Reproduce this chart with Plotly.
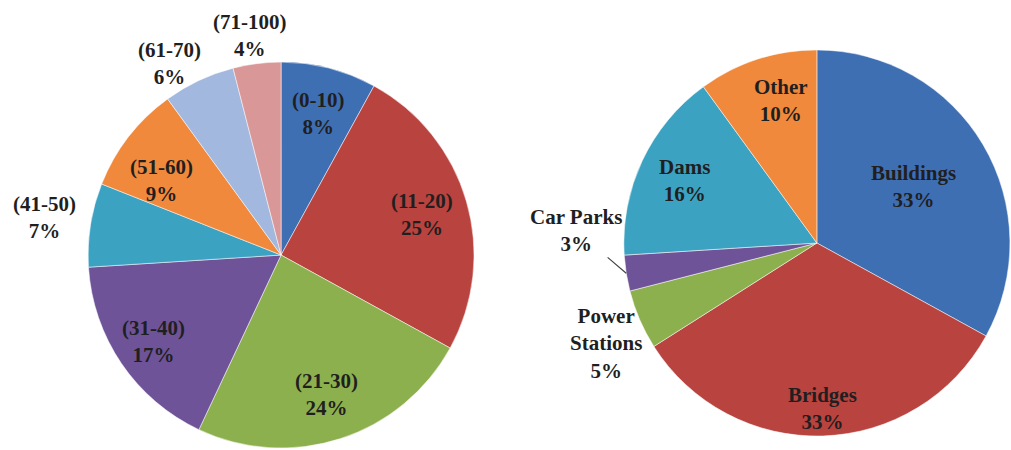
import math
import plotly.graph_objects as go

# Left pie: age groups
age_labels = ["(0-10)", "(11-20)", "(21-30)", "(31-40)", "(41-50)", "(51-60)", "(61-70)", "(71-100)"]
age_values = [8, 25, 24, 17, 7, 9, 6, 4]
age_colors = ["#3F6FB3", "#B9433F", "#8DB04E", "#6F5399", "#3CA2C2", "#F0893C", "#A2B8DE", "#D99798"]

# Right pie: structure types
struct_labels = ["Buildings", "Bridges", "Power Stations", "Car Parks", "Dams", "Other"]
struct_values = [33, 33, 5, 3, 16, 10]
struct_colors = ["#3F6FB3", "#B9433F", "#8DB04E", "#6F5399", "#3CA2C2", "#F0893C"]

W, H = 1011, 450
font_family = "Liberation Serif, Times New Roman, serif"
FS = 21
TXT = "#1f1f1f"

left_dom = dict(x=[0.087, 0.469], y=[0.0044, 0.862])
right_dom = dict(x=[0.617, 0.999], y=[0.031, 0.889])

# label placement (radius factor, angle nudge in degrees) relative to each slice's mid-angle
DEFAULT_PLACE = (0.76, 0)
left_place = {"(31-40)": (0.8, 0), "(51-60)": (0.73, -6), "(41-50)": (1.24, 0),
              "(61-70)": (1.15, -5), "(71-100)": (1.15, -1)}
right_place = {"Buildings": (0.58, 0), "Bridges": (0.86, 0), "Other": (0.76, 4),
               "Car Parks": (1.25, 12), "Power Stations": (1.21, -2)}
leader = {"Car Parks"}
label_text = {"Power Stations": "Power<br>Stations"}


def geometry(dom):
    cx = (dom["x"][0] + dom["x"][1]) / 2 * W
    cy = (1 - (dom["y"][0] + dom["y"][1]) / 2) * H
    r = min((dom["x"][1] - dom["x"][0]) * W, (dom["y"][1] - dom["y"][0]) * H) / 2
    return cx, cy, r


def add_pie(fig, labels, values, colors, dom):
    fig.add_trace(go.Pie(
        labels=labels, values=values, sort=False, direction="clockwise", rotation=0,
        marker=dict(colors=colors, line=dict(color="rgba(255,255,255,0.5)", width=1)),
        textinfo="none", domain=dom,
        showlegend=False, hoverinfo="label+percent",
    ))


def label_annotations(labels, values, dom, place):
    cx, cy, r = geometry(dom)
    total = sum(values)
    cum = 0
    out = []
    for lab, val in zip(labels, values):
        mid = (cum + val / 2) / total * 360
        cum += val
        rf, dang = place.get(lab, DEFAULT_PLACE)
        ang = math.radians(mid + dang)
        tx = cx + rf * r * math.sin(ang)
        ty = cy - rf * r * math.cos(ang)
        text = f"<b>{label_text.get(lab, lab)}<br>{val}%</b>"
        font = dict(family=font_family, size=FS, color=TXT)
        if lab in leader:
            m = math.radians(mid)
            px = cx + r * math.sin(m)
            py = cy - r * math.cos(m)
            out.append(dict(x=px / W, y=1 - py / H, xref="paper", yref="paper",
                            showarrow=True, arrowhead=0, arrowwidth=1.2, arrowcolor="#444",
                            ax=tx - px, ay=ty - py, standoff=0,
                            text=text, align="center", font=font))
        else:
            out.append(dict(x=tx / W, y=1 - ty / H, xref="paper", yref="paper",
                            xanchor="center", yanchor="middle", showarrow=False,
                            text=text, align="center", font=font))
    return out


fig = go.Figure()
add_pie(fig, age_labels, age_values, age_colors, left_dom)
add_pie(fig, struct_labels, struct_values, struct_colors, right_dom)

annotations = (label_annotations(age_labels, age_values, left_dom, left_place)
               + label_annotations(struct_labels, struct_values, right_dom, right_place))

fig.update_layout(
    width=W, height=H,
    margin=dict(l=0, r=0, t=0, b=0),
    paper_bgcolor="white", plot_bgcolor="white",
    annotations=annotations,
)
fig.write_html("out.html", config={"displayModeBar": False},
               post_script="document.body.style.margin='0';")
